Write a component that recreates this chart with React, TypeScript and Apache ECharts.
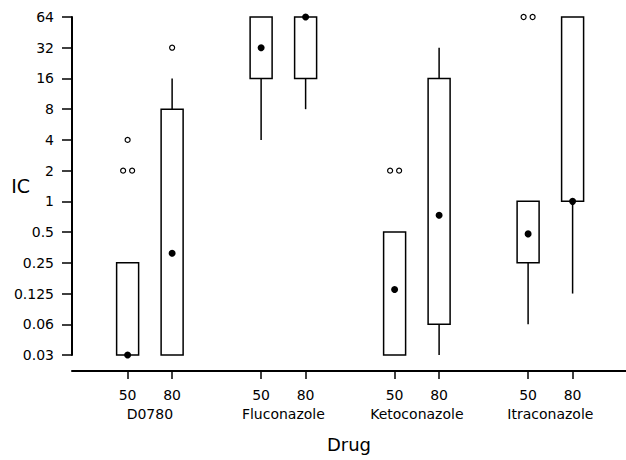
import React, { useEffect, useRef } from "react";
import * as echarts from "echarts";

// x positions of the eight boxes (two doses per drug, gap between drugs)
const positions = [1, 2, 4, 5, 7, 8, 10, 11];
const doseLabels = ["50", "80", "50", "80", "50", "80", "50", "80"];
const drugNames = ["D0780", "Fluconazole", "Ketoconazole", "Itraconazole"];
const drugCenters = [1.5, 4.5, 7.5, 10.5];
const yTickLabels = ["0.03", "0.06", "0.125", "0.25", "0.5", "1", "2", "4", "8", "16", "32", "64"];

// IC values (log2 scale on the chart)
const whiskerLow = [1 / 32, 1 / 32, 4, 8, 1 / 32, 1 / 32, 1 / 16, 1 / 8];
const q1 = [1 / 32, 1 / 32, 16, 16, 1 / 32, 1 / 16, 1 / 4, 1];
const median = [1 / 32, 0.31, 32, 64, 0.137, 0.73, 0.48, 1];
const q3 = [0.25, 8, 64, 64, 0.5, 16, 1, 64];
const whiskerHigh = [0.25, 16, 64, 64, 0.5, 32, 1, 64];

const outlierPos = [1, 1, 1, 2, 7, 7, 10, 10];
const outlierValues = [4, 2, 2, 32, 2, 2, 64, 64];

const FONT = "DejaVu Sans";

export default function App() {
  const ref = useRef<HTMLDivElement>(null);

  useEffect(() => {
    if (!ref.current) return;
    const chart = echarts.init(ref.current, null, { renderer: "svg" });
    const lg = (v: number) => Math.log2(v);

    const boxData = positions.map((p, i) => [
      p,
      lg(whiskerLow[i]),
      lg(q1[i]),
      lg(median[i]),
      lg(q3[i]),
      lg(whiskerHigh[i]),
    ]);

    const medianData = positions.map((p, i) => [p, lg(median[i])]);

    // spread duplicate outliers side by side
    const outlierData: any[] = [];
    const seen: Record<string, number> = {};
    const counts: Record<string, number> = {};
    outlierPos.forEach((p, i) => {
      const k = p + "_" + outlierValues[i];
      counts[k] = (counts[k] || 0) + 1;
    });
    outlierPos.forEach((p, i) => {
      const k = p + "_" + outlierValues[i];
      const n = counts[k];
      const idx = seen[k] || 0;
      seen[k] = idx + 1;
      const off = n > 1 ? (idx - (n - 1) / 2) * 9 : 0;
      outlierData.push({ value: [p, lg(outlierValues[i])], symbolOffset: [off, 0] });
    });

    chart.setOption({
      animation: false,
      backgroundColor: "#ffffff",
      grid: {
        left: 72,
        right: 0,
        top: 17,
        bottom: 105,
        containLabel: false,
        outerBoundsMode: "none",
      },
      xAxis: [
        {
          type: "value",
          min: -0.25,
          max: 12.2,
          offset: 16,
          position: "bottom",
          splitLine: { show: false },
          axisLine: { show: true, onZero: false, lineStyle: { color: "#000", width: 2 } },
          axisTick: {
            show: true,
            customValues: positions,
            length: 8,
            lineStyle: { color: "#000", width: 1.5 },
          },
          axisLabel: {
            customValues: positions,
            formatter: (v: number) => doseLabels[positions.indexOf(v)] ?? "",
            fontFamily: FONT,
            fontSize: 14,
            color: "#000",
            margin: 17,
          },
          name: "Drug",
          nameLocation: "middle",
          nameGap: 64,
          nameMoveOverlap: false,
          nameTextStyle: { fontFamily: FONT, fontSize: 18, color: "#000" },
        },
        {
          type: "value",
          min: -0.25,
          max: 12.2,
          offset: 16,
          position: "bottom",
          splitLine: { show: false },
          axisLine: { show: false, onZero: false },
          axisTick: { show: false },
          axisLabel: {
            customValues: drugCenters,
            formatter: (v: number) => drugNames[drugCenters.indexOf(v)] ?? "",
            fontFamily: FONT,
            fontSize: 14,
            color: "#000",
            margin: 36,
          },
        },
      ],
      yAxis: {
        type: "value",
        show: true,
        min: -5,
        max: 6,
        interval: 1,
        position: "left",
        splitLine: { show: false },
        axisLine: { show: true, onZero: false, symbol: "none", lineStyle: { color: "#000", width: 2, type: "solid", opacity: 1 } },
        axisTick: { show: true, length: 10, lineStyle: { color: "#000", width: 1.5 } },
        axisLabel: {
          formatter: (v: number) => yTickLabels[Math.round(v) + 5] ?? "",
          fontFamily: FONT,
          fontSize: 14,
          color: "#000",
          margin: 18,
        },
        name: "IC",
        nameLocation: "middle",
        nameRotate: 0,
        nameGap: 42,
        nameMoveOverlap: false,
        nameTextStyle: { fontFamily: FONT, fontSize: 19, color: "#000" },
      },
      series: [
        {
          type: "custom",
          xAxisIndex: 0,
          encode: { x: 0, y: [1, 2, 3, 4, 5] },
          data: boxData,
          renderItem: (params: any, api: any) => {
            const x = api.value(0);
            const lo = api.coord([x, api.value(1)]);
            const b1 = api.coord([x, api.value(2)]);
            const b3 = api.coord([x, api.value(4)]);
            const hi = api.coord([x, api.value(5)]);
            const w = 22;
            const cx = lo[0];
            const lineStyle = { stroke: "#000", lineWidth: 1.5 };
            const children: any[] = [];
            if (hi[1] < b3[1] - 0.5) {
              children.push({ type: "line", shape: { x1: cx, y1: hi[1], x2: cx, y2: b3[1] }, style: lineStyle });
            }
            if (lo[1] > b1[1] + 0.5) {
              children.push({ type: "line", shape: { x1: cx, y1: b1[1], x2: cx, y2: lo[1] }, style: lineStyle });
            }
            children.push({
              type: "rect",
              shape: { x: cx - w / 2, y: b3[1], width: w, height: b1[1] - b3[1] },
              style: { fill: "#fff", stroke: "#000", lineWidth: 1.5 },
            });
            return { type: "group", children };
          },
          z: 2,
        },
        {
          type: "scatter",
          xAxisIndex: 0,
          data: medianData,
          symbol: "circle",
          symbolSize: 7,
          itemStyle: { color: "#000", opacity: 1 },
          clip: false,
          z: 3,
        },
        {
          type: "scatter",
          xAxisIndex: 0,
          data: outlierData,
          symbol: "circle",
          symbolSize: 5,
          itemStyle: { color: "#fff", borderColor: "#000", borderWidth: 1.2, opacity: 1 },
          clip: false,
          z: 3,
        },
      ],
    });
    return () => chart.dispose();
  }, []);

  return (
    <div
      ref={ref}
      style={{ position: "fixed", left: 0, top: 0, width: 626, height: 460, background: "#fff" }}
    />
  );
}
